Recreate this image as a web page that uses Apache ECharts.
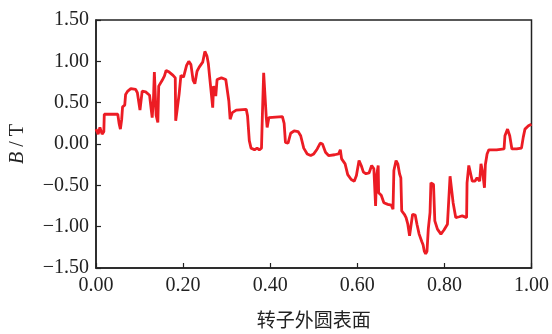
<!DOCTYPE html>
<html><head><meta charset="utf-8">
<script src="https://cdn.jsdelivr.net/npm/echarts@6/dist/echarts.min.js"></script>
<style>html,body{margin:0;padding:0;background:#fff}#c{width:552px;height:334px}</style>
</head><body><div id="c"></div>
<script>
var positions = [0.000,0.005,0.009,0.014,0.018,0.019,0.050,0.053,0.056,0.059,0.061,0.066,0.068,0.073,0.080,0.091,0.095,0.101,0.106,0.114,0.123,0.129,0.132,0.134,0.138,0.142,0.144,0.152,0.157,0.161,0.168,0.177,0.182,0.183,0.186,0.191,0.195,0.201,0.208,0.213,0.218,0.223,0.227,0.232,0.237,0.245,0.250,0.255,0.258,0.261,0.265,0.268,0.270,0.275,0.278,0.288,0.298,0.305,0.308,0.313,0.322,0.345,0.348,0.352,0.356,0.364,0.370,0.375,0.380,0.382,0.385,0.389,0.391,0.393,0.397,0.428,0.432,0.435,0.441,0.447,0.455,0.464,0.470,0.477,0.485,0.493,0.500,0.508,0.515,0.520,0.527,0.534,0.548,0.557,0.561,0.564,0.572,0.578,0.586,0.593,0.598,0.604,0.609,0.614,0.620,0.627,0.633,0.638,0.642,0.644,0.648,0.649,0.655,0.661,0.670,0.678,0.682,0.684,0.689,0.693,0.697,0.700,0.702,0.708,0.712,0.716,0.720,0.723,0.727,0.733,0.737,0.742,0.748,0.751,0.754,0.757,0.760,0.763,0.767,0.769,0.775,0.778,0.784,0.792,0.799,0.807,0.810,0.813,0.817,0.820,0.826,0.834,0.841,0.851,0.852,0.856,0.859,0.864,0.870,0.875,0.881,0.884,0.888,0.892,0.894,0.898,0.902,0.920,0.937,0.939,0.945,0.950,0.955,0.966,0.977,0.981,0.985,0.993,1.000];
var fluxB = [0.18,0.12,0.20,0.12,0.15,0.36,0.36,0.25,0.18,0.30,0.45,0.47,0.60,0.64,0.67,0.66,0.62,0.41,0.64,0.63,0.59,0.32,0.55,0.87,0.35,0.26,0.70,0.77,0.82,0.89,0.87,0.83,0.80,0.28,0.40,0.61,0.83,0.81,0.95,1.00,0.96,0.77,0.73,0.88,0.93,0.99,1.12,1.06,0.97,0.81,0.60,0.44,0.70,0.58,0.78,0.80,0.78,0.52,0.30,0.38,0.41,0.42,0.34,0.04,-0.05,-0.07,-0.05,-0.07,-0.05,0.34,0.86,0.85,0.32,0.20,0.32,0.33,0.25,0.02,0.01,0.13,0.16,0.15,0.10,-0.05,-0.12,-0.14,-0.12,-0.06,0.01,0.00,-0.10,-0.14,-0.13,-0.12,-0.07,-0.18,-0.24,-0.37,-0.43,-0.45,-0.38,-0.20,-0.26,-0.34,-0.36,-0.35,-0.26,-0.30,-0.75,-0.40,-0.26,-0.59,-0.62,-0.71,-0.73,-0.74,-0.79,-0.32,-0.20,-0.24,-0.36,-0.41,-0.81,-0.85,-0.89,-0.97,-1.11,-1.00,-0.85,-0.86,-0.97,-1.09,-1.18,-1.22,-1.30,-1.33,-1.30,-1.03,-0.83,-0.47,-0.49,-0.93,-1.03,-1.09,-1.04,-0.97,-0.95,-0.39,-0.41,-0.71,-0.89,-0.88,-0.87,-0.89,-0.47,-0.26,-0.33,-0.45,-0.45,-0.41,-0.45,-0.24,-0.35,-0.53,-0.25,-0.12,-0.07,-0.07,-0.06,0.10,0.18,0.10,-0.06,-0.06,-0.05,0.08,0.18,0.22,0.24];
var xTicks = {min: 0, max: 1, step: 0.2};
var yTicks = {min: -1.5, max: 1.5, step: 0.5};
var xName = '转子外圆表面';
var yName = '{i|B} / T';

var pts = positions.map(function (p, i) { return [p, fluxB[i]]; });
var fmt = function (v) { return v.toFixed(2).replace('-', '\u2212'); };
var serif = '"Liberation Serif", "DejaVu Serif", serif';
var axisCol = '#222';
var chart = echarts.init(document.getElementById('c'));
chart.setOption({
  animation: false,
  grid: {left: 95, right: 16, top: 20, bottom: 60, show: true, borderColor: axisCol, borderWidth: 1.5, backgroundColor: 'transparent'},
  xAxis: {
    type: 'value', min: xTicks.min, max: xTicks.max, interval: xTicks.step,
    name: xName, nameLocation: 'middle', nameGap: 42,
    nameTextStyle: {fontFamily: '"Noto Sans CJK SC"', fontSize: 19, color: '#222'},
    axisLine: {show: true, onZero: false, lineStyle: {color: axisCol, width: 1.5}},
    axisTick: {show: true, inside: true, length: 5, lineStyle: {color: axisCol, width: 1.2}},
    axisLabel: {formatter: fmt, fontFamily: serif, fontSize: 20, color: '#222', margin: 8},
    splitLine: {show: false}
  },
  yAxis: {
    type: 'value', min: yTicks.min, max: yTicks.max, interval: yTicks.step,
    name: yName, nameLocation: 'middle', nameGap: 68,
    nameTextStyle: {fontFamily: serif, fontSize: 20, color: '#222', rich: {i: {fontFamily: serif, fontStyle: 'italic', fontSize: 20, color: '#222'}}},
    axisLine: {show: true, onZero: false, lineStyle: {color: axisCol, width: 1.5}},
    axisTick: {show: true, inside: true, length: 5, lineStyle: {color: axisCol, width: 1.2}},
    axisLabel: {formatter: fmt, fontFamily: serif, fontSize: 20, color: '#222', margin: 7},
    splitLine: {show: false}
  },
  series: [{
    type: 'line', data: pts, showSymbol: false, symbol: 'none',
    lineStyle: {color: '#EC1C24', width: 2.8}, itemStyle: {color: '#EC1C24'}
  }]
});
</script></body></html>
